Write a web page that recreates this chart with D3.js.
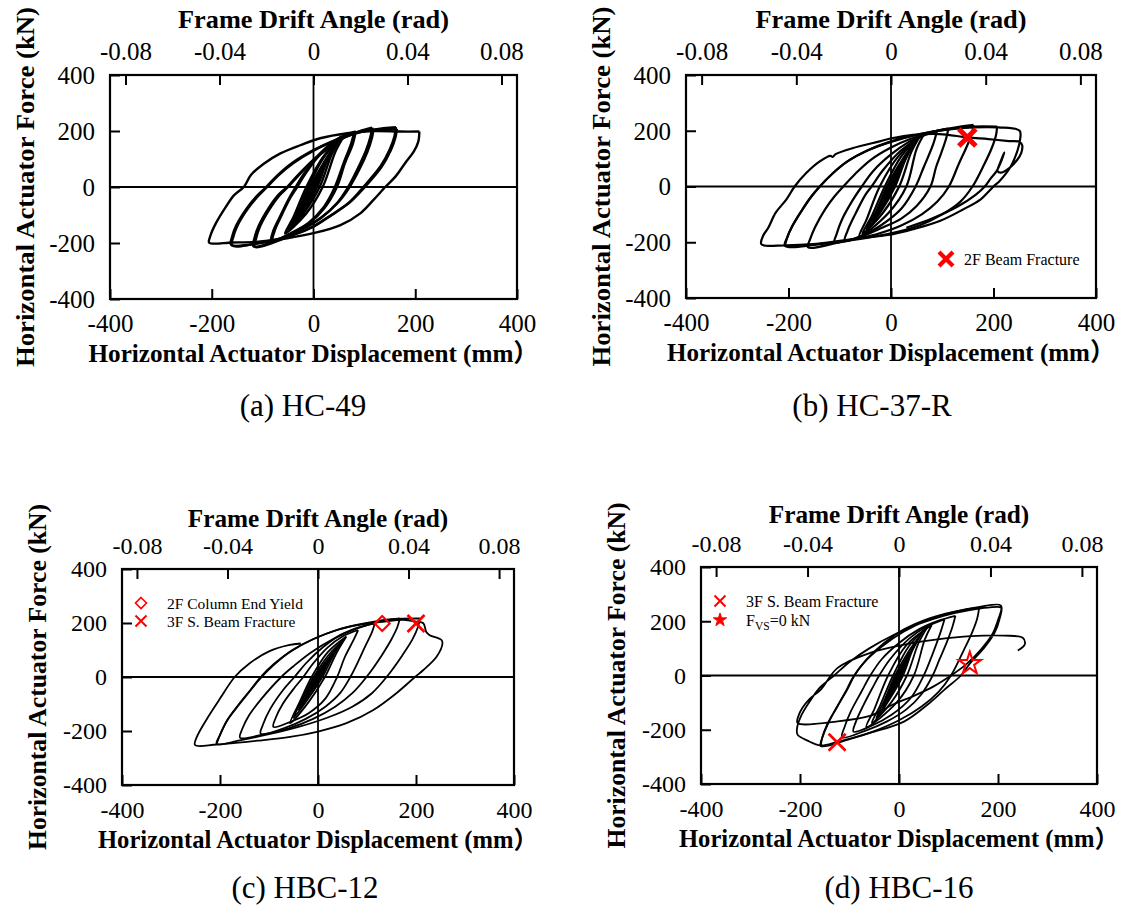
<!DOCTYPE html>
<html lang="en">
<head>
<meta charset="UTF-8">
<title>Hysteresis loops</title>
<script src="https://d3js.org/d3.v7.min.js"></script>
<style>
  body { margin: 0; background: #fff; }
  svg text { font-family: "Liberation Serif", "Times New Roman", "Noto Sans CJK SC", serif; fill: #000; }
</style>
</head>
<body>
<svg id="chart" width="1126" height="911"></svg>
<script>
// axis ticks
const dispTicks = [-400, -200, 0, 200, 400];
const forceTicks = [-400, -200, 0, 200, 400];
const driftTicks = [-0.08, -0.04, 0, 0.04, 0.08];
const driftMax = 0.0866;   // 400 mm / frame height

// loops: [displacement mm, force kN]
const loopsA = [
  [[15,56],[7,24],[1,0],[-7,-30],[-15,-54],[-7,-22],[-1,0],[7,30],[15,56]],
  [[25,92],[13,46],[3,0],[-12,-50],[-25,-88],[-13,-42],[-3,0],[12,48],[25,92]],
  [[35,126],[19,66],[5,0],[-16,-68],[-35,-120],[-19,-60],[-5,0],[16,66],[35,126]],
  [[45,158],[26,90],[7,0],[-20,-88],[-44,-148],[-26,-80],[-7,0],[20,86],[45,158]],
  [[55,182],[36,118],[12,0],[-18,-90],[-50,-158],[-34,-100],[-10,0],[18,100],[55,182]],
  [[62,188],[44,130],[18,0],[-15,-96],[-56,-166],[-40,-110],[-14,0],[20,110],[62,188]],
  [[80,196],[74,155],[60,90],[42,0],[20,-72],[-10,-128],[-45,-165],[-80,-192],[-77,-160],[-65,-110],[-46,-40],[-32,0],[-15,50],[15,120],[50,172],[80,196]],
  [[83,199],[77,152],[62,86],[46,0],[22,-74],[-10,-132],[-46,-168],[-83,-196],[-80,-162],[-67,-110],[-48,-40],[-35,0],[-17,52],[15,124],[50,175],[83,199]],
  [[115,212],[112,180],[103,130],[88,70],[68,0],[45,-60],[15,-110],[-20,-150],[-60,-185],[-115,-214],[-113,-185],[-105,-140],[-85,-75],[-67,-30],[-50,0],[-30,40],[0,95],[30,140],[60,176],[90,199],[115,212]],
  [[118,208],[115,176],[106,126],[91,66],[71,0],[47,-58],[16,-108],[-20,-148],[-62,-184],[-118,-212],[-116,-182],[-107,-136],[-87,-72],[-69,-28],[-52,0],[-31,42],[0,98],[30,142],[62,178],[92,198],[118,208]],
  [[162,214],[159,180],[150,135],[132,75],[98,0],[70,-55],[35,-100],[0,-140],[-40,-170],[-100,-197],[-160,-209],[-158,-180],[-150,-140],[-130,-80],[-110,-35],[-91,0],[-70,40],[-40,85],[0,130],[40,164],[80,190],[120,206],[162,214]],
  [[164,208],[161,176],[152,131],[134,72],[101,0],[72,-54],[36,-100],[0,-142],[-40,-172],[-100,-199],[-162,-206],[-160,-178],[-152,-138],[-132,-78],[-112,-33],[-93,0],[-72,40],[-42,86],[0,132],[40,166],[80,192],[120,204],[164,208]],
  [[208,198],[206,162],[197,126],[180,85],[161,37],[141,0],[118,-46],[92,-94],[53,-136],[0,-165],[-52,-183],[-113,-196],[-160,-198],[-205,-199],[-203,-176],[-192,-130],[-172,-70],[-156,-29],[-137,0],[-123,43],[-97,84],[-65,120],[-25,150],[13,174],[66,192],[118,200],[170,198],[208,198]]
];

const loopsB = [
  [[15,55],[7,24],[1,0],[-7,-30],[-15,-52],[-7,-22],[-1,0],[7,30],[15,55]],
  [[25,92],[13,46],[3,0],[-12,-50],[-25,-88],[-13,-42],[-3,0],[12,48],[25,92]],
  [[37,130],[20,68],[5,0],[-16,-70],[-37,-125],[-20,-62],[-5,0],[16,68],[37,130]],
  [[48,165],[28,96],[8,0],[-20,-90],[-48,-155],[-28,-85],[-8,0],[20,90],[48,165]],
  [[58,185],[40,125],[16,0],[-16,-95],[-56,-170],[-38,-108],[-12,0],[20,108],[58,185]],
  [[66,192],[50,135],[30,0],[-5,-95],[-62,-180],[-48,-120],[-22,0],[15,110],[66,192]],
  [[90,200],[82,150],[64,70],[48,0],[20,-80],[-20,-140],[-55,-175],[-90,-195],[-85,-160],[-70,-100],[-50,-30],[-38,0],[-15,60],[20,130],[55,175],[90,200]],
  [[112,208],[108,175],[98,120],[88,70],[77,0],[50,-70],[20,-115],[-20,-150],[-60,-180],[-110,-200],[-106,-170],[-96,-120],[-75,-50],[-57,0],[-35,55],[0,115],[35,160],[70,190],[112,208]],
  [[161,221],[157,185],[147,140],[132,80],[113,0],[90,-55],[60,-100],[20,-140],[-30,-172],[-90,-195],[-162,-218],[-158,-190],[-148,-145],[-128,-80],[-110,-35],[-93,0],[-70,45],[-40,95],[0,140],[40,172],[90,200],[161,221]],
  [[207,215],[205,185],[197,140],[182,80],[159,0],[135,-55],[100,-100],[55,-140],[0,-168],[-60,-188],[-130,-205],[-207,-213],[-203,-185],[-192,-140],[-172,-80],[-155,-35],[-139,0],[-115,45],[-85,90],[-45,130],[0,160],[50,185],[110,205],[160,215],[207,215]],
  [[-207,-213],[-203,-185],[-192,-140],[-172,-80],[-155,-35],[-139,0],[-115,45],[-85,90],[-45,130],[0,162],[50,186],[110,204],[160,212],[210,212],[251,200],[252,170],[247,130],[233,70],[212,20],[200,0],[175,-46],[141,-82],[95,-124],[44,-153],[4,-171],[-48,-183],[-100,-195],[-152,-207],[-207,-211],[-253,-207],[-249,-175],[-240,-150],[-225,-94],[-204,-46],[-188,0],[-165,49],[-139,90],[-118,110],[-114,106],[-108,116],[-74,138],[-22,162],[4,174],[43,185],[95,188],[149,176],[190,170],[230,163],[251,160],[256,148],[254,120],[246,95],[232,68],[215,50],[208,55],[214,90],[221,122],[216,95],[206,55],[195,30],[183,0],[165,-30],[130,-72],[80,-115],[30,-148]]
];

const loopsC = [
  [[15,42],[7,18],[2,0],[-7,-24],[-16,-50],[-7,-20],[-2,0],[7,22],[15,42]],
  [[27,78],[14,38],[4,0],[-12,-42],[-28,-86],[-14,-38],[-4,0],[12,40],[27,78]],
  [[40,112],[22,58],[6,0],[-16,-60],[-40,-122],[-22,-56],[-6,0],[16,58],[40,112]],
  [[50,135],[30,75],[9,0],[-20,-80],[-50,-152],[-30,-75],[-9,0],[20,78],[50,135]],
  [[58,150],[38,90],[14,0],[-20,-95],[-57,-171],[-38,-95],[-13,0],[20,92],[58,150]],
  [[82,174],[70,128],[55,75],[39,0],[15,-80],[-20,-135],[-55,-165],[-91,-185],[-86,-150],[-72,-100],[-48,-40],[-30,0],[-10,50],[20,110],[50,150],[82,174]],
  [[116,199],[110,165],[98,120],[84,65],[66,0],[45,-60],[15,-110],[-25,-155],[-70,-190],[-117,-210],[-112,-175],[-98,-120],[-72,-50],[-48,0],[-25,50],[10,110],[45,155],[80,182],[116,199]],
  [[167,217],[162,185],[150,140],[130,80],[99,0],[70,-60],[35,-110],[-10,-155],[-60,-190],[-110,-212],[-159,-225],[-154,-190],[-140,-140],[-115,-80],[-75,0],[-50,40],[-15,90],[30,140],[80,180],[125,205],[167,217]],
  [[208,217],[204,185],[193,140],[172,80],[140,0],[110,-60],[70,-110],[20,-150],[-40,-185],[-100,-212],[-160,-235],[-207,-248],[-200,-215],[-185,-160],[-160,-100],[-115,0],[-90,45],[-55,95],[-10,140],[40,175],[100,200],[150,214],[208,217]],
  [[-207,-248],[-200,-214],[-186,-162],[-162,-102],[-138,-48],[-117,0],[-90,48],[-52,100],[0,148],[60,185],[131,204],[175,212],[200,205],[215,199],[221,167],[228,155],[252,137],[254,124],[242,75],[215,26],[198,0],[160,-60],[113,-122],[58,-171],[0,-202],[-57,-222],[-124,-236],[-207,-250],[-251,-252],[-247,-221],[-225,-150],[-200,-80],[-170,0],[-140,50],[-100,95],[-60,118],[-35,124]]
];

const loopsD = [
  [[15,55],[7,24],[1,0],[-7,-30],[-15,-55],[-7,-22],[-1,0],[7,30],[15,55]],
  [[25,90],[13,46],[3,0],[-12,-50],[-25,-92],[-13,-42],[-3,0],[12,48],[25,90]],
  [[37,128],[20,68],[5,0],[-16,-70],[-36,-132],[-20,-62],[-5,0],[16,68],[37,128]],
  [[48,160],[28,96],[8,0],[-20,-90],[-46,-158],[-28,-85],[-8,0],[20,90],[48,160]],
  [[58,180],[40,122],[16,0],[-16,-100],[-55,-175],[-38,-110],[-12,0],[20,108],[58,180]],
  [[66,186],[52,132],[30,0],[-5,-100],[-66,-190],[-50,-125],[-22,0],[15,112],[66,186]],
  [[92,207],[84,160],[68,80],[50,0],[25,-80],[-15,-145],[-55,-185],[-92,-207],[-87,-170],[-72,-110],[-52,-40],[-40,0],[-18,60],[20,135],[55,180],[92,207]],
  [[114,220],[108,180],[96,120],[82,60],[68,0],[45,-70],[15,-125],[-25,-170],[-70,-205],[-115,-228],[-110,-190],[-98,-135],[-76,-60],[-58,0],[-35,60],[0,120],[40,170],[80,202],[114,220]],
  [[162,250],[158,210],[148,160],[130,90],[105,0],[80,-60],[45,-115],[0,-165],[-50,-205],[-100,-235],[-158,-260],[-153,-220],[-140,-165],[-120,-100],[-104,-50],[-90,0],[-65,60],[-30,120],[10,170],[60,210],[110,235],[162,250]],
  [[-158,-260],[-155,-228],[-145,-180],[-125,-115],[-108,-60],[-94,-10],[-72,45],[-36,105],[10,162],[60,206],[110,234],[160,252],[206,258],[203,207],[193,157],[172,102],[143,44],[125,0],[92,-52],[58,-107],[11,-169],[-57,-211],[-124,-245],[-158,-258],[-185,-240],[-205,-218],[-206,-195],[-198,-150],[-180,-95],[-160,-45],[-131,0],[-100,50],[-60,100],[-10,150],[40,190],[90,220],[140,240],[180,250],[206,250],[201,210],[188,150],[165,95],[135,40],[105,0],[70,-40],[30,-75],[-10,-105],[-57,-148],[-124,-169],[-205,-175],[-203,-148],[-195,-119],[-180,-85],[-158,-52],[-124,28],[-57,84],[11,114],[78,133],[145,145],[213,147],[250,139],[254,114],[240,92]]
];

// event markers
const marksB = [{ type: "xbold", x: 149, y: 176 }];
const marksC = [{ type: "diamond", x: 131, y: 198 }, { type: "x", x: 200, y: 198 }];
const marksD = [{ type: "x", x: -125, y: -246 }, { type: "star", x: 143, y: 44 }];

const legendB = [{ type: "xbold", label: "2F Beam Fracture" }];
const legendC = [{ type: "diamond", label: "2F Column End Yield" }, { type: "x", label: "3F S. Beam Fracture" }];
const legendD = [{ type: "x", label: "3F S. Beam Fracture" }, { type: "star", label: "F|VS|=0 kN" }];

const panels = [
  { caption: "(a) HC-49", L: 110, R: 517, T: 75, B: 299, loops: loopsA, marks: [], legend: [], lw: 2.4,
    fs: 25, tfs: 26, xfs: 25, xw: 450, capX: 303, capY: 416, topY: 28, legX: 0, legY: 0 },
  { caption: "(b) HC-37-R", L: 686, R: 1096, T: 75, B: 298, loops: loopsB, marks: marksB, legend: legendB, lw: 2.2,
    fs: 25, tfs: 26, xfs: 25, xw: 448, capX: 872, capY: 416, topY: 28, legX: 946, legY: 259, legGap: 18, legFs: 16, legBig: true },
  { caption: "(c) HBC-12", L: 122, R: 514, T: 569, B: 785, loops: loopsC, marks: marksC, legend: legendC, lw: 1.8,
    fs: 24, tfs: 25, xfs: 24.4, xw: 440, capX: 305, capY: 898, topY: 527, legX: 141, legY: 603, legGap: 18, legFs: 15.5 },
  { caption: "(d) HBC-16", L: 701, R: 1097, T: 567, B: 784, loops: loopsD, marks: marksD, legend: legendD, lw: 1.8,
    fs: 24, tfs: 25, xfs: 24.4, xw: 440, capX: 899, capY: 898, topY: 523, legX: 720, legY: 601, legGap: 19, legFs: 16 }
];

const svg = d3.select("#chart");
const red = "#ff0000";
const fmt = d => (d < 0 ? "-" : "") + Math.abs(d);
const fmtDrift = d => d === 0 ? "0" : (d < 0 ? "-" : "") + Math.abs(d).toFixed(2);

function drawMark(g, type, cx, cy, s) {
  if (type === "x" || type === "xbold") {
    const a = s;
    const p = d3.path();
    p.moveTo(cx - a, cy - a); p.lineTo(cx + a, cy + a);
    p.moveTo(cx - a, cy + a); p.lineTo(cx + a, cy - a);
    g.append("path").attr("d", p.toString()).attr("stroke", red).attr("fill", "none")
      .attr("stroke-width", type === "xbold" ? s * 0.6 : Math.max(2, s * 0.32));
  } else if (type === "diamond") {
    const p = d3.path();
    p.moveTo(cx, cy - s); p.lineTo(cx + s, cy); p.lineTo(cx, cy + s); p.lineTo(cx - s, cy); p.closePath();
    g.append("path").attr("d", p.toString()).attr("stroke", red).attr("fill", "none")
      .attr("stroke-width", Math.max(1.6, s * 0.28));
  } else if (type === "star") {
    g.append("path").attr("d", d3.symbol(d3.symbolStar, s * s * 2.2)())
      .attr("transform", `translate(${cx},${cy})`)
      .attr("stroke", red).attr("fill", s > 6 ? "none" : red).attr("stroke-width", s > 6 ? 2 : 1);
  }
}

panels.forEach(p => {
  const g = svg.append("g");
  const x = d3.scaleLinear().domain([-400, 400]).range([p.L, p.R]);
  const y = d3.scaleLinear().domain([-400, 400]).range([p.B, p.T]);
  const xd = d3.scaleLinear().domain([-driftMax, driftMax]).range([p.L, p.R]);

  // zero lines
  g.append("line").attr("x1", x(0)).attr("x2", x(0)).attr("y1", p.T).attr("y2", p.B)
    .attr("stroke", "#000").attr("stroke-width", 1.8);
  g.append("line").attr("x1", p.L).attr("x2", p.R).attr("y1", y(0)).attr("y2", y(0))
    .attr("stroke", "#000").attr("stroke-width", 1.8);

  // hysteresis curves
  const line = d3.line().x(d => x(d[0])).y(d => y(d[1])).curve(d3.curveCatmullRom.alpha(0.5));
  g.selectAll("path.loop").data(p.loops).join("path")
    .attr("class", "loop")
    .attr("d", line)
    .attr("fill", "none")
    .attr("stroke", "#000")
    .attr("stroke-width", p.lw)
    .attr("stroke-linejoin", "round");

  // axes (inward ticks)
  const bottom = g.append("g").attr("transform", `translate(0,${p.B})`)
    .call(d3.axisBottom(x).tickValues(dispTicks).tickFormat(fmt).tickSizeInner(-10).tickSizeOuter(0));
  const left = g.append("g").attr("transform", `translate(${p.L},0)`)
    .call(d3.axisLeft(y).tickValues(forceTicks).tickFormat(fmt).tickSizeInner(-10).tickSizeOuter(0));
  const top = g.append("g").attr("transform", `translate(0,${p.T})`)
    .call(d3.axisTop(xd).tickValues(driftTicks).tickFormat(fmtDrift).tickSizeInner(-10).tickSizeOuter(0));
  [bottom, left, top].forEach(a => {
    a.select(".domain").remove();
    a.selectAll(".tick line").attr("stroke-width", 2);
    a.selectAll("text").attr("font-family", null).attr("font-size", p.fs).attr("fill", "#000");
    a.attr("font-family", null);
  });
  bottom.selectAll("text").attr("dy", null).attr("y", 33);
  top.selectAll("text").attr("dy", null).attr("y", -15);
  left.selectAll("text").attr("dy", "0.33em").attr("x", -15);

  // frame
  g.append("rect").attr("x", p.L).attr("y", p.T).attr("width", p.R - p.L).attr("height", p.B - p.T)
    .attr("fill", "none").attr("stroke", "#000").attr("stroke-width", 2.2);

  // markers
  p.marks.forEach(m => drawMark(g, m.type, x(m.x), y(m.y), m.type === "diamond" ? 7.5 : 8.5));

  // legend
  p.legend.forEach((l, i) => {
    const ly = p.legY + i * p.legGap;
    drawMark(g, l.type, p.legX, ly, l.type === "xbold" ? 7 : (l.type === "star" ? 5 : 5.5));
    const t = g.append("text").attr("x", p.legX + (p.legBig ? 18 : 26)).attr("y", ly + 6)
      .attr("font-size", p.legFs);
    const parts = l.label.split("|");
    if (parts.length === 3) {
      t.append("tspan").text(parts[0]);
      t.append("tspan").attr("font-size", p.legFs * 0.72).attr("dy", 4).text(parts[1]);
      t.append("tspan").attr("dy", -4).text(parts[2]);
    } else {
      t.text(l.label);
    }
  });

  // titles
  const cx = (p.L + p.R) / 2, cy = (p.T + p.B) / 2;
  const k = p.tfs / 26;
  g.append("text").attr("x", cx).attr("y", p.topY).attr("text-anchor", "middle")
    .attr("font-weight", "bold").attr("font-size", p.tfs)
    .attr("textLength", 271 * k).attr("lengthAdjust", "spacingAndGlyphs")
    .text("Frame Drift Angle (rad)");
  g.append("text").attr("x", cx).attr("y", p.B + 63).attr("text-anchor", "middle")
    .attr("font-weight", "bold").attr("font-size", p.xfs)
    .attr("textLength", p.xw).attr("lengthAdjust", "spacingAndGlyphs")
    .text("Horizontal Actuator Displacement (mm\uFF09");
  g.append("text").attr("transform", `translate(${p.L - 76},${cy}) rotate(-90)`)
    .attr("text-anchor", "middle").attr("font-weight", "bold").attr("font-size", p.tfs)
    .attr("textLength", 360 * k).attr("lengthAdjust", "spacingAndGlyphs")
    .text("Horizontal Actuator Force (kN)");

  // caption
  g.append("text").attr("x", p.capX).attr("y", p.capY).attr("text-anchor", "middle")
    .attr("font-size", 31).text(p.caption);
});
</script>
</body>
</html>
